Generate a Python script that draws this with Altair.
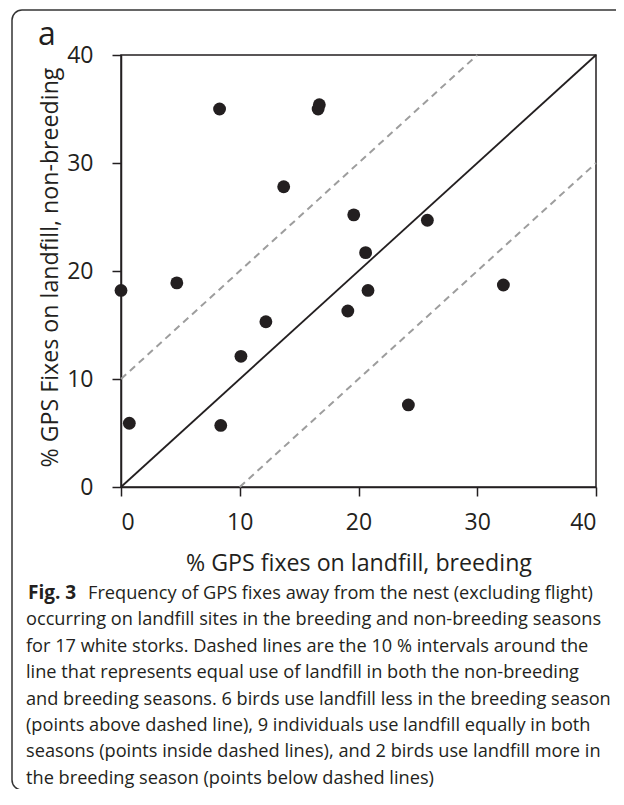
import altair as alt
import pandas as pd
import math

# ---- data ----
breeding = [8.3, 16.6, 16.7, 13.7, 19.6, 25.8, 20.6, 4.7, 0.0, 32.2, 20.8, 19.1, 12.2, 10.1, 24.2, 0.7, 8.4]
non_breeding = [35.0, 35.0, 35.4, 27.8, 25.2, 24.7, 21.7, 18.9, 18.2, 18.7, 18.2, 16.3, 15.3, 12.1, 7.6, 5.9, 5.7]

equal_x = [0, 40]
equal_y = [0, 40]
upper_x = [0, 30]
upper_y = [10, 40]
lower_x = [10, 40]
lower_y = [0, 30]
tick_values = [0, 10, 20, 30, 40]

x_title = "% GPS fixes on landfill, breeding"
y_title = "% GPS Fixes on landfill, non-breeding"
panel_label = "a"
caption_bold = "Fig. 3"
caption_first = "Frequency of GPS fixes away from the nest (excluding flight)"
caption_rest = [
    "occurring on landfill sites in the breeding and non-breeding seasons",
    "for 17 white storks. Dashed lines are the 10 % intervals around the",
    "line that represents equal use of landfill in both the non-breeding",
    "and breeding seasons. 6 birds use landfill less in the breeding season",
    "(points above dashed line), 9 individuals use landfill equally in both",
    "seasons (points inside dashed lines), and 2 birds use landfill more in",
    "the breeding season (points below dashed lines)",
]

DARK = "#231f20"
FRAME = "#333333"
FONT = "Open Sans"

pts = pd.DataFrame({"b": breeding, "n": non_breeding})
eq = pd.DataFrame({"b": equal_x, "n": equal_y})
up = pd.DataFrame({"b": upper_x, "n": upper_y})
lo = pd.DataFrame({"b": lower_x, "n": lower_y})
one = pd.DataFrame({"k": [0]})

xenc = alt.X(
    "b:Q",
    scale=alt.Scale(domain=[0, 40], nice=False, zero=False),
    axis=alt.Axis(
        values=tick_values, title=x_title, grid=False,
        labelFontSize=23, labelPadding=15, labelColor=DARK, labelFont=FONT,
        tickSize=9, tickWidth=1.5, tickColor=DARK,
        domainColor=DARK, domainWidth=1.5,
        titleFontSize=23.2, titleFontWeight="normal", titleColor=DARK, titleFont=FONT,
        titleY=83, titleBaseline="alphabetic",
    ),
)
yenc = alt.Y(
    "n:Q",
    scale=alt.Scale(domain=[0, 40], nice=False, zero=False),
    axis=alt.Axis(
        values=tick_values, title=y_title, grid=False,
        labelFontSize=23, labelPadding=19, labelColor=DARK, labelFont=FONT,
        tickSize=9, tickWidth=1.5, tickColor=DARK,
        domainColor=DARK, domainWidth=1.5,
        titleFontSize=23.2, titleFontWeight="normal", titleColor=DARK, titleFont=FONT,
        titleX=-64, titleY=212, titleAngle=-90, titleBaseline="alphabetic",
        titleAlign="center",
    ),
)

# frame around the figure (open on the right, as in the cropped reference)
L, T, B, R = -109, -45, 735, 10
frame_top = alt.Chart(one).mark_rule(color=FRAME, strokeWidth=1.5).encode(
    x=alt.value(L + R), x2=alt.value(520), y=alt.value(T))
frame_bottom = alt.Chart(one).mark_rule(color=FRAME, strokeWidth=1.5).encode(
    x=alt.value(L + R), x2=alt.value(520), y=alt.value(B))
frame_left = alt.Chart(one).mark_rule(color=FRAME, strokeWidth=1.5).encode(
    x=alt.value(L), y=alt.value(T + R), y2=alt.value(B - R))
corner_tl = alt.Chart(one).mark_arc(
    radius=R + 0.75, radius2=R - 0.75, theta=1.5 * math.pi, theta2=2 * math.pi, color=FRAME
).encode(x=alt.value(L + R), y=alt.value(T + R))
corner_bl = alt.Chart(one).mark_arc(
    radius=R + 0.75, radius2=R - 0.75, theta=math.pi, theta2=1.5 * math.pi, color=FRAME
).encode(x=alt.value(L + R), y=alt.value(B - R))

upper = alt.Chart(up).mark_line(color="#9d9d9d", strokeWidth=2, strokeDash=[7, 5]).encode(x=xenc, y=yenc)
lower = alt.Chart(lo).mark_line(color="#9d9d9d", strokeWidth=2, strokeDash=[7, 5]).encode(x=xenc, y=yenc)
equal = alt.Chart(eq).mark_line(color=DARK, strokeWidth=1.8).encode(x=xenc, y=yenc)

points = alt.Chart(pts).mark_circle(size=165, opacity=1, color=DARK).encode(x=xenc, y=yenc)

label_a = alt.Chart(one).mark_text(
    text=panel_label, font=FONT, fontSize=32, align="left", baseline="alphabetic", color=DARK
).encode(x=alt.value(-83), y=alt.value(-10))

cap_bold = alt.Chart(one).mark_text(
    text=caption_bold, font=FONT, fontSize=19, fontWeight="bold", align="left",
    baseline="alphabetic", color=DARK
).encode(x=alt.value(-93), y=alt.value(544))

cap_first = alt.Chart(one).mark_text(
    text=caption_first, font=FONT, fontSize=18.2, align="left",
    baseline="alphabetic", color=DARK
).encode(x=alt.value(-33), y=alt.value(544))

cap_rest = alt.Chart(one).mark_text(
    text="\n".join(caption_rest), lineBreak="\n", lineHeight=26.4, font=FONT, fontSize=18.2,
    align="left", baseline="alphabetic", color=DARK
).encode(x=alt.value(-95), y=alt.value(570.4))

chart = alt.layer(
    frame_top, frame_bottom, frame_left, corner_tl, corner_bl,
    upper, lower, equal, points, label_a, cap_bold, cap_first, cap_rest
).properties(
    width=475, height=432,
    autosize=alt.AutoSizeParams(type="none"),
    padding={"left": 113, "top": 47, "right": 20, "bottom": 302},
    background="white",
).configure_view(
    stroke=DARK, strokeWidth=1.5
)

chart.save("out.html", embed_options={"renderer": "svg", "actions": False})
